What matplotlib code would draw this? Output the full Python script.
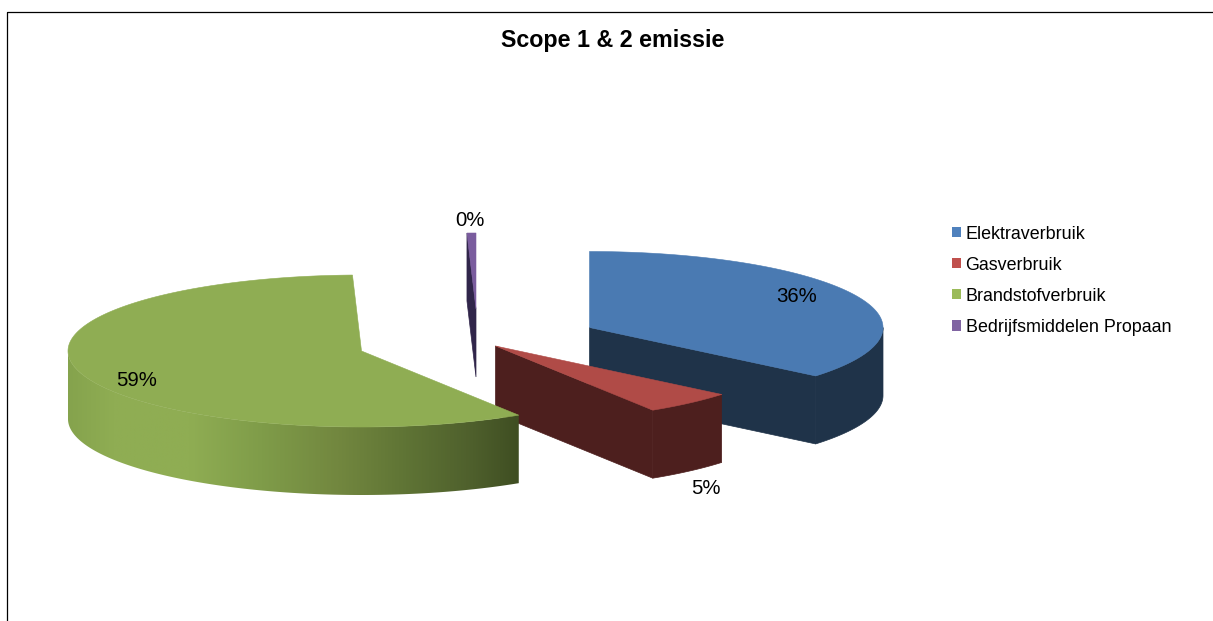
import numpy as np
import matplotlib
matplotlib.use("Agg")
import matplotlib.pyplot as plt
from matplotlib.patches import Polygon, Patch, Rectangle
from matplotlib.colors import LinearSegmentedColormap

# ---- data ----
title = "Scope 1 & 2 emissie"
categories = ["Elektraverbruik", "Gasverbruik", "Brandstofverbruik", "Bedrijfsmiddelen Propaan"]
shares = [36.0, 5.0, 58.51, 0.49]

# ---- styles and layout (pixel space of the figure) ----
legend_colors = ["#4f81bd", "#c0504d", "#9bbb59", "#8064a2"]
top_colors = ["#4a7ab2", "#b04b47", "#8fad53", "#7a5c9e"]
side_colors = ["#1f3349", "#4d1f1e", "#4a5a28", "#30254a"]
centers = [(589.5, 327.5), (495.5, 346), (361.5, 351), (476, 309)]
label_pos = [(797, 296), (706, 488), (137, 381), (470, 220)]
draw_order = [3, 0, 1, 2]
RX, RY, DEPTH = 293.5, 76, 68

W, H = 1213, 621
plt.rcParams["font.family"] = ["Liberation Sans", "DejaVu Sans"]
fig = plt.figure(figsize=(W / 100, H / 100), dpi=100, facecolor="white")
ax = fig.add_axes([0, 0, 1, 1])
ax.set_axis_off()


def rim(c, theta):
    t = np.radians(theta)
    return np.column_stack([c[0] + RX * np.sin(t), c[1] - RY * np.cos(t)])


green_cmap = LinearSegmentedColormap.from_list(
    "wall",
    [(0.0, "#85a34d"), (0.10, "#8fad53"), (0.27, "#8fad53"), (0.43, "#7f9c49"),
     (0.60, "#72873f"), (0.75, "#5f7435"), (0.90, "#4e5f2c"), (1.0, "#3f4e22")],
)

bounds = np.concatenate([[0], np.cumsum(shares)]) / np.sum(shares) * 360
for z, i in enumerate(draw_order):
    a0, a1 = bounds[i], bounds[i + 1]
    c = centers[i]
    base = 10 + z * 5
    down = np.array([0, DEPTH])
    # cut faces
    for ang, show in ((a1, 0 < a1 < 180), (a0, 180 < a0 < 360)):
        if show:
            p = rim(c, [ang])[0]
            ax.add_patch(Polygon([c, p, p + down, np.array(c) + down], closed=True,
                                 fc=side_colors[i], ec=side_colors[i], lw=0.5, zorder=base))
    # outer wall
    w0, w1 = max(a0, 90), min(a1, 270)
    if w1 > w0:
        arc = rim(c, np.linspace(w0, w1, 200))
        poly = np.vstack([arc, (arc + down)[::-1]])
        if i == 2:
            patch = Polygon(poly, closed=True, fc="none", ec="none", zorder=base + 1)
            ax.add_patch(patch)
            x0, x1 = poly[:, 0].min(), poly[:, 0].max()
            y0, y1 = poly[:, 1].min(), poly[:, 1].max()
            im = ax.imshow(np.linspace(0, 1, 512)[None, :], cmap=green_cmap, aspect="auto",
                           extent=(x0, x1, y1, y0), zorder=base + 1)
            im.set_clip_path(patch)
        else:
            ax.add_patch(Polygon(poly, closed=True, fc=side_colors[i], ec=side_colors[i],
                                 lw=0.5, zorder=base + 1))
    # top face
    top = np.vstack([[c], rim(c, np.linspace(a0, a1, 240))])
    ax.add_patch(Polygon(top, closed=True, fc=top_colors[i], ec=top_colors[i], lw=0.4, zorder=base + 2))

for v, (x, y) in zip(shares, label_pos):
    ax.text(x, y, f"{round(v)}%", ha="center", va="center", fontsize=14.7, color="black", zorder=60)

ax.add_patch(Rectangle((6.5, 11.5), W + 20, H + 20, fc="none", ec="black", lw=0.9, zorder=70))
ax.set_xlim(0, W)
ax.set_ylim(H, 0)

ax.text(612.5, 40.5, title, ha="center", va="center", fontsize=16.75, fontweight="bold", color="black", zorder=60)

handles = [Patch(fc=col, ec="none") for col in legend_colors]
ax.legend(handles, categories, loc="upper left", bbox_to_anchor=(952 / W, 1 - 225.5 / H),
          bbox_transform=fig.transFigure, frameon=False, fontsize=12.85, ncol=1,
          handlelength=0.5, handleheight=0.5, handletextpad=0.26,
          labelspacing=0.79, borderpad=0, borderaxespad=0)

fig.savefig("out.png", dpi=100, facecolor="white")
